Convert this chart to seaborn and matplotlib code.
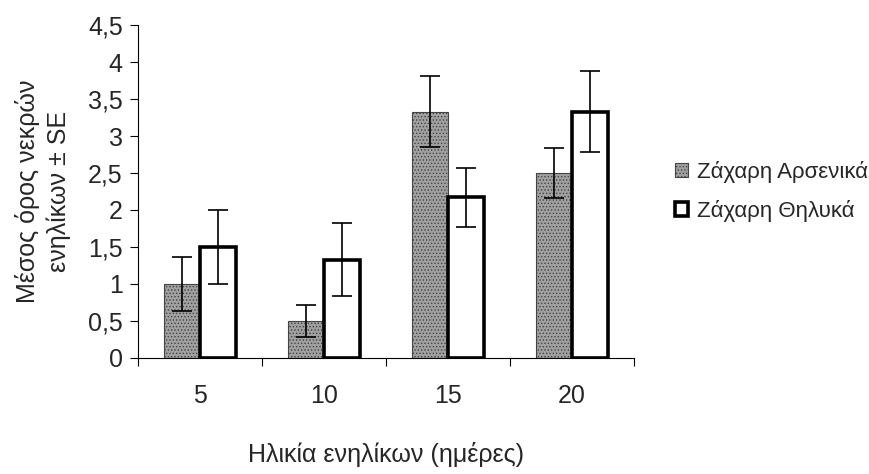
import matplotlib
matplotlib.use('Agg')
import matplotlib.pyplot as plt
import seaborn as sns
import numpy as np
import pandas as pd
from matplotlib.ticker import FuncFormatter, FixedLocator
from matplotlib.patches import Patch

ages = ['5', '10', '15', '20']
groups = ['Ζάχαρη Αρσενικά', 'Ζάχαρη Θηλυκά']
male_mean = [1.0, 0.5, 3.33, 2.5]
male_se = [0.37, 0.22, 0.48, 0.34]
female_mean = [1.5, 1.33, 2.17, 3.33]
female_se = [0.5, 0.5, 0.4, 0.55]

df = pd.DataFrame({
    'age': ages * 2,
    'group': [groups[0]] * 4 + [groups[1]] * 4,
    'mean': male_mean + female_mean,
    'se': male_se + female_se,
})

sns.set_style('white')
plt.rcParams['font.family'] = ['Liberation Sans', 'DejaVu Sans']
plt.rcParams['hatch.linewidth'] = 0.6

MALE_FC = '#a0a0a0'

fig = plt.figure(figsize=(8.7, 4.74), dpi=100)
ax = fig.add_axes([0.1586, 0.245, 0.570, 0.702])

sns.barplot(data=df, x='age', y='mean', hue='group', order=ages, hue_order=groups,
            palette=[MALE_FC, 'white'], width=0.58, errorbar=None, ax=ax,
            saturation=1, legend=False)

styles = [dict(edgecolor='#444444', linewidth=0.8, hatch='.....'),
          dict(edgecolor='black', linewidth=2.6, hatch=None)]
for cont, grp, st in zip(ax.containers, groups, styles):
    sub = df[df['group'] == grp]
    for bar, m, e in zip(cont, sub['mean'], sub['se']):
        bar.set_edgecolor(st['edgecolor'])
        bar.set_linewidth(st['linewidth'])
        bar.set_hatch(st['hatch'])
        xc = bar.get_x() + bar.get_width() / 2
        ax.errorbar(xc, m, yerr=e, fmt='none', ecolor='black', elinewidth=1.2,
                    capsize=7, capthick=1.2, zorder=5)

ax.set_xlim(-0.5, 3.5)
ax.set_ylim(0, 4.5)
ax.set_yticks(np.arange(0, 4.51, 0.5))
ax.yaxis.set_major_formatter(FuncFormatter(lambda v, p: f'{v:g}'.replace('.', ',')))

ax.xaxis.set_major_locator(FixedLocator([-0.5, 0.5, 1.5, 2.5, 3.5]))
ax.xaxis.set_minor_locator(FixedLocator([0, 1, 2, 3]))
ax.set_xticklabels([])
ax.set_xticklabels(ages, minor=True)
ax.tick_params(axis='x', which='major', direction='out', length=6, width=0.8, color='black', bottom=True)
ax.tick_params(axis='x', which='minor', length=0, pad=19, labelsize=18)
ax.tick_params(axis='y', direction='out', length=6, width=0.8, color='black', left=True,
               labelsize=18, pad=5)

for s in ['top', 'right']:
    ax.spines[s].set_visible(False)
for s in ['left', 'bottom']:
    ax.spines[s].set_color('black')
    ax.spines[s].set_linewidth(0.8)

ax.set_xlabel('Ηλικία ενηλίκων (ημέρες)', fontsize=18, labelpad=24)
ax.set_ylabel('Μέσος όρος νεκρών\nενηλίκων ± SE', fontsize=18, labelpad=12, linespacing=1.35)

handles = [Patch(facecolor=MALE_FC, edgecolor='#444444', linewidth=0.8, hatch='.....'),
           Patch(facecolor='white', edgecolor='black', linewidth=2.6)]
fig.legend(handles, groups, loc='center left', bbox_to_anchor=(0.776, 0.596), frameon=False,
           fontsize=16, handlelength=0.6, handleheight=0.6, handletextpad=0.4,
           labelspacing=0.75, borderpad=0, borderaxespad=0)

plt.savefig('out.png', dpi=100)
plt.close()
